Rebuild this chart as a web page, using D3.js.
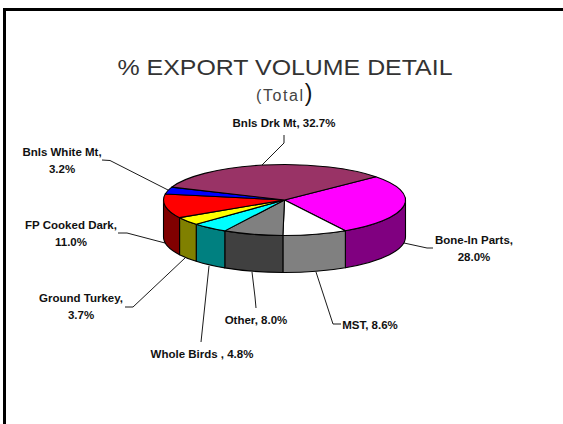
<!DOCTYPE html>
<html><head><meta charset="utf-8">
<script src="https://cdn.jsdelivr.net/npm/d3@7"></script>
<style>
html,body{margin:0;padding:0;background:#fff;overflow:hidden}
svg{display:block}
text{font-family:"Liberation Sans",Arial,sans-serif;fill:#111}
.lab{font-size:11.5px;font-weight:bold;text-anchor:middle}
</style></head><body><div id="c"></div>
<script>
const categories=["Bone-In Parts","MST","Other","Whole Birds ","Ground Turkey","FP Cooked Dark","Bnls White Mt","Bnls Drk Mt"];
const values=[28.0,8.6,8.0,4.8,3.7,11.0,3.2,32.7];
const topColors=["#ff00ff","#ffffff","#808080","#00ffff","#ffff00","#ff0000","#0000ff","#993366"];
const sideColors=["#800080","#808080","#404040","#008080","#808000","#800000","#000080","#602040"];
const labelLines=[["Bone-In Parts,","28.0%"],["MST, 8.6%"],["Other, 8.0%"],["Whole Birds , 4.8%"],["Ground Turkey,","3.7%"],["FP Cooked Dark,","11.0%"],["Bnls White Mt,","3.2%"],["Bnls Drk Mt, 32.7%"]];
const labelAnchors=[[474,244],[370,329],[256,324],[202,358],[81,302],[71,229],[62,156],[284,127]];
const leaders=[
 [[433,248],[427,248],[404,243]],
 [[341,324],[333,324],[316,272]],
 [[256,308],[255,297],[252,272]],
 [[201,342],[209,266]],
 [[125,307],[133,307],[185,258]],
 [[118,233],[127,233],[165,243]],
 [[102,160],[110,160.5],[168,190]],
 [[284,135],[284,143],[262,165]]];
const W=563,H=424,cx=284.5,cy=200,rx=121,ry=35.5,depth=37;
const startDeg=49;
const svg=d3.select("#c").append("svg").attr("width",W).attr("height",H);
svg.append("rect").attr("x",4.5).attr("y",9.5).attr("width",W+20).attr("height",H+20).attr("fill","#fff").attr("stroke","#000").attr("stroke-width",3);
const pie=d3.pie().sort(null).startAngle(startDeg*Math.PI/180).endAngle((startDeg+360)*Math.PI/180);
const slices=pie(values);
const px=a=>cx+rx*Math.sin(a), py=a=>cy-ry*Math.cos(a);
const lo=Math.PI/2, hi=3*Math.PI/2;
const g=svg.append("g");
slices.forEach((s,i)=>{
  [0,2*Math.PI].forEach(off=>{
    const a0=Math.max(s.startAngle-off,lo), a1=Math.min(s.endAngle-off,hi);
    if(a1<=a0) return;
    const large=(a1-a0)>Math.PI?1:0;
    const d=`M${px(a0)},${py(a0)}A${rx},${ry} 0 ${large} 1 ${px(a1)},${py(a1)}L${px(a1)},${py(a1)+depth}A${rx},${ry} 0 ${large} 0 ${px(a0)},${py(a0)+depth}Z`;
    g.append("path").attr("d",d).attr("fill",sideColors[i]).attr("stroke","#000").attr("stroke-width",1.1).attr("stroke-linejoin","round");
  });
});
const arc=d3.arc().innerRadius(0).outerRadius(rx);
const topFace=g.append("g").attr("transform",`translate(${cx},${cy}) scale(1,${ry/rx})`);
topFace.selectAll("path").data(slices).join("path").attr("d",arc)
  .attr("fill",(d,i)=>topColors[i]).attr("stroke","#000").attr("stroke-width",1.1)
  .attr("vector-effect","non-scaling-stroke").attr("stroke-linejoin","round");
const line=d3.line();
svg.append("g").selectAll("path").data(leaders).join("path").attr("d",line)
  .attr("fill","none").attr("stroke","#000").attr("stroke-width",0.9);
labelLines.forEach((ls,i)=>{
  const t=svg.append("text").attr("class","lab").attr("x",labelAnchors[i][0]).attr("y",labelAnchors[i][1]);
  ls.forEach((l,j)=>t.append("tspan").attr("x",labelAnchors[i][0]).attr("dy",j?17:0).text(l));
});
svg.append("text").attr("x",285).attr("y",75).attr("text-anchor","middle").attr("textLength",335).attr("lengthAdjust","spacingAndGlyphs").style("font-size","22px").style("fill","#333").text("% EXPORT VOLUME DETAIL");
const sub=svg.append("text").attr("x",285).attr("y",101).attr("text-anchor","middle").style("font-size","16px").style("letter-spacing","1.6px").style("fill","#444");
sub.append("tspan").text("(Total");
sub.append("tspan").style("font-size","23px").style("fill","#111").text(")");
</script></body></html>
